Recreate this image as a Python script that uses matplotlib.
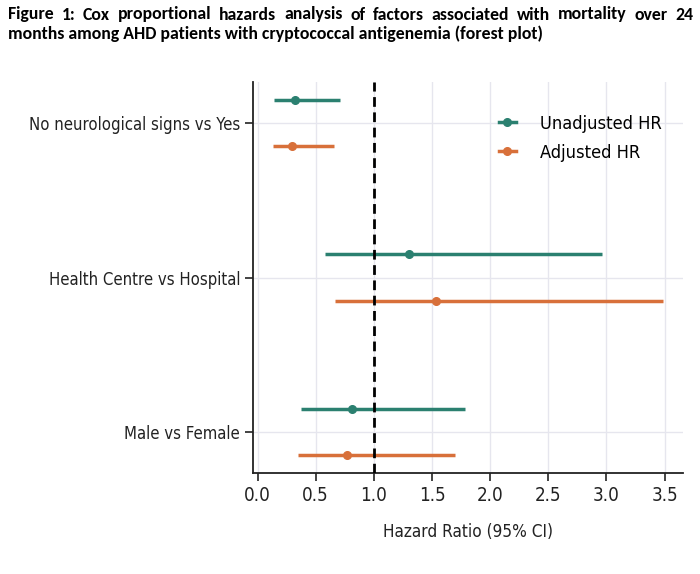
import matplotlib
matplotlib.use("Agg")
import matplotlib.pyplot as plt
import numpy as np

# data
factors = ["No neurological signs vs Yes", "Health Centre vs Hospital", "Male vs Female"]
hr_unadj = [0.32, 1.30, 0.81]
lo_unadj = [0.14, 0.58, 0.37]
hi_unadj = [0.71, 2.96, 1.78]
hr_adj = [0.30, 1.53, 0.77]
lo_adj = [0.13, 0.67, 0.35]
hi_adj = [0.66, 3.49, 1.70]

teal = "#2b8070"
orange = "#d8703a"

plt.rcParams['font.family'] = 'DejaVu Sans'
plt.rcParams['font.stretch'] = 'condensed'

fig = plt.figure(figsize=(7, 5.74), dpi=100)
ax = fig.add_axes([0.362, 0.176, 0.614, 0.681])

y = np.arange(len(factors))[::-1]
off = 0.15

for yy, h, lo, hi in zip(y + off, hr_unadj, lo_unadj, hi_unadj):
    ax.plot([lo, hi], [yy, yy], color=teal, lw=2.5, solid_capstyle='butt', zorder=3)
ax.plot(hr_unadj, y + off, 'o', color=teal, ms=5.5, zorder=4)
for yy, h, lo, hi in zip(y - off, hr_adj, lo_adj, hi_adj):
    ax.plot([lo, hi], [yy, yy], color=orange, lw=2.5, solid_capstyle='butt', zorder=3)
ax.plot(hr_adj, y - off, 'o', color=orange, ms=5.5, zorder=4)

# legend proxies
ax.plot([], [], '-o', color=teal, lw=2.5, ms=5.5, label="Unadjusted HR")
ax.plot([], [], '-o', color=orange, lw=2.5, ms=5.5, label="Adjusted HR")

ax.axvline(1.0, color='black', ls=(0, (3.5, 2)), lw=2, zorder=5)

ax.set_xlim(-0.036, 3.66)
ax.set_ylim(-0.265, 2.265)
ax.set_xticks(np.arange(0, 3.6, 0.5))
ax.set_xticklabels([f"{v:.1f}" for v in np.arange(0, 3.6, 0.5)])
ax.set_yticks(y)
ax.set_yticklabels(factors)
ax.tick_params(axis='both', labelsize=13.5, length=6, width=1.2, colors='#222222')
ax.tick_params(axis='y', labelsize=12)
ax.grid(True, color='#e6e6ee', lw=1)
ax.set_axisbelow(True)
for s in ['top', 'right']:
    ax.spines[s].set_visible(False)
for s in ['left', 'bottom']:
    ax.spines[s].set_linewidth(1.3)
    ax.spines[s].set_color('#222222')
ax.set_xlabel("Hazard Ratio (95% CI)", fontsize=12.3, labelpad=13, color='#222222')

leg = ax.legend(loc='upper left', bbox_to_anchor=(0.572, 0.917), frameon=False,
                borderpad=0, borderaxespad=0,
                fontsize=13.1, handlelength=0.9, handletextpad=1.35, labelspacing=0.62)

# two-line caption, first line justified
line1 = "Figure 1: Cox proportional hazards analysis of factors associated with mortality over 24"
line2 = "months among AHD patients with cryptococcal antigenemia (forest plot)"
tkw = dict(family='Carlito', weight='bold', fontsize=12.8, va='baseline', color='black')
fig.canvas.draw()
r = fig.canvas.get_renderer()
words = line1.split()
x0, x1 = 8 / 700, 693 / 700
widths = []
for w in words:
    t = fig.text(0, 0, w, **tkw)
    widths.append(t.get_window_extent(r).width / 700)
    t.remove()
gap = (x1 - x0 - sum(widths)) / (len(words) - 1)
xp = x0
for w, wd in zip(words, widths):
    fig.text(xp, 1 - 19.5 / 574, w, **tkw)
    xp += wd + gap
fig.text(x0, 1 - 39 / 574, line2, **tkw)

fig.savefig("out.png", dpi=100)
